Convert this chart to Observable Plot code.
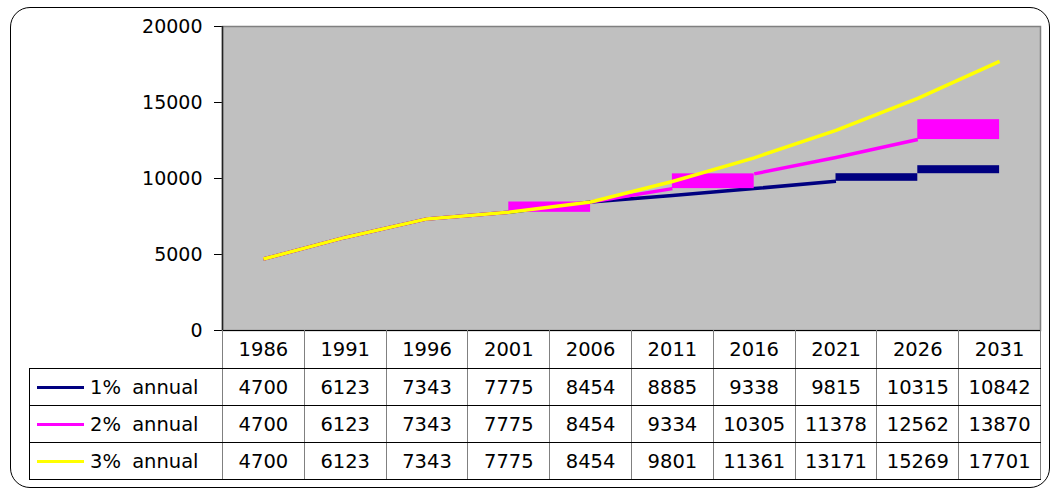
<!DOCTYPE html>
<html>
<head>
<meta charset="utf-8">
<script src="https://cdn.jsdelivr.net/npm/d3@7"></script>
<script src="https://cdn.jsdelivr.net/npm/@observablehq/plot@0.6"></script>
<style>
  html, body { margin: 0; padding: 0; background: #fff; }
  #wrap { position: relative; width: 1054px; height: 492px; overflow: hidden; font-family: "DejaVu Sans", sans-serif; }
  #border { position: absolute; left: 10px; top: 7px; width: 1040px; height: 481px; box-sizing: border-box;
            border: 1.5px solid #000; border-radius: 20px; }
  #chart { position: absolute; left: 0; top: 0; }
  #tbl { position: absolute; top: 330px; border-collapse: collapse; table-layout: fixed;
         font-size: 19.5px; color: #000; }
  #tbl td { padding: 0; text-align: center; vertical-align: middle; white-space: nowrap;
            border-top: 1.5px solid #000; border-bottom: 1.5px solid #000;
            border-left: 1.5px solid #808080; border-right: 1.5px solid #808080; overflow: hidden; }
  #tbl td.lab { text-align: left; padding-left: 7px; border-left: 1.5px solid #000; word-spacing: 5px; }
  #tbl td.blank { border-top: none; border-left: none; }
  #tbl tr.hdr td { height: 37px; }
  #tbl tr.row td { height: 36px; }
  .key { display: inline-block; width: 47px; height: 3px; vertical-align: middle; margin-right: 6px; position: relative; top: -1px; }
</style>
</head>
<body>
<div id="wrap">
  <div id="border"></div>
  <div id="chart"></div>
  <table id="tbl"></table>
</div>
<script>
// ---- data ----
const years = ["1986", "1991", "1996", "2001", "2006", "2011", "2016", "2021", "2026", "2031"];
const annual1 = [4700, 6123, 7343, 7775, 8454, 8885, 9338, 9815, 10315, 10842];
const annual2 = [4700, 6123, 7343, 7775, 8454, 9334, 10305, 11378, 12562, 13870];
const annual3 = [4700, 6123, 7343, 7775, 8454, 9801, 11361, 13171, 15269, 17701];
const seriesNames = ["1% annual", "2% annual", "3% annual"];
const seriesColors = ["#000080", "#ff00ff", "#ffff00"];
const yTicks = [0, 5000, 10000, 15000, 20000];
// segments that the original renders as filled blocks (start index of segment)
const blockSegments1 = [7, 8];
const blockSegments2 = [3, 5, 8];
const blockSegments3 = [];

const seriesValues = [annual1, annual2, annual3];
const blockSegments = [blockSegments1, blockSegments2, blockSegments3];

const marks = [
  Plot.frame({fill: "#c0c0c0", stroke: "#808080", strokeWidth: 1.5}),
  Plot.ruleX([-0.5], {stroke: "#222", strokeWidth: 1.5})
];
seriesValues.forEach((vals, s) => {
  const blk = new Set(blockSegments[s]);
  // split the polyline into runs of ordinary segments
  const pts = [];
  let run = 0, open = false;
  for (let i = 0; i < vals.length - 1; i++) {
    if (blk.has(i)) { if (open) { run++; open = false; } continue; }
    if (!open) { pts.push({i, v: vals[i], run}); open = true; }
    pts.push({i: i + 1, v: vals[i + 1], run});
  }
  marks.push(Plot.line(pts, {x: "i", y: "v", z: "run", stroke: seriesColors[s], strokeWidth: 3.5, strokeLinecap: "butt"}));
  const blocks = blockSegments[s].map(i => ({x1: i, x2: i + 1, y1: vals[i], y2: vals[i + 1]}));
  marks.push(Plot.rect(blocks, {x1: "x1", x2: "x2", y1: "y1", y2: "y2", fill: seriesColors[s]}));
});

const chart = Plot.plot({
  width: 1054,
  height: 345,
  marginLeft: 222,
  marginRight: 14,
  marginTop: 26,
  marginBottom: 15,
  style: {fontFamily: "DejaVu Sans, sans-serif", fontSize: "19px", background: "transparent", overflow: "visible", color: "#000"},
  x: {domain: [-0.5, years.length - 0.5], axis: null},
  y: {domain: [0, 20000], ticks: yTicks, tickFormat: "d", tickSize: 8, tickPadding: 12, label: null},
  marks
});
document.getElementById("chart").appendChild(chart);

// ---- data table aligned to the x scale ----
const xs = chart.scale("x");
const left0 = 29;
const colEdges = d3.range(years.length + 1).map(k => xs.apply(k - 0.5));
const tbl = d3.select("#tbl").style("left", left0 + "px");
const cg = tbl.append("colgroup");
cg.append("col").style("width", (colEdges[0] - left0) + "px");
years.forEach((y, k) => cg.append("col").style("width", (colEdges[k + 1] - colEdges[k]) + "px"));
tbl.style("width", (colEdges[years.length] - left0) + "px");

const hdr = tbl.append("tr").attr("class", "hdr");
hdr.append("td").attr("class", "blank");
years.forEach(y => hdr.append("td").text(y));
seriesValues.forEach((vals, s) => {
  const tr = tbl.append("tr").attr("class", "row");
  const lab = tr.append("td").attr("class", "lab");
  lab.append("span").attr("class", "key").style("background", seriesColors[s]);
  lab.append("span").text(seriesNames[s]);
  vals.forEach(v => tr.append("td").text(v));
});
</script>
</body>
</html>
